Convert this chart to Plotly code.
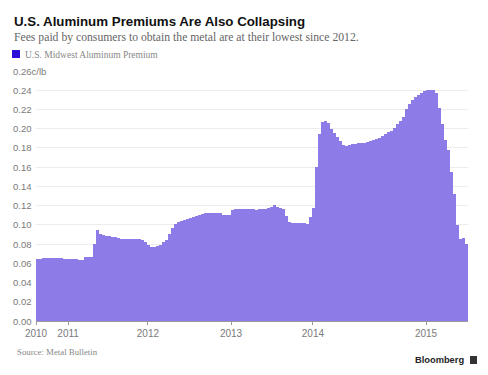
import plotly.graph_objects as go

# Weekly U.S. Midwest aluminum premium (c/lb)
premium = [
    0.065, 0.064, 0.066, 0.066, 0.066, 0.066, 0.066, 0.066, 0.066, 0.065,
    0.065, 0.065, 0.064, 0.064, 0.063, 0.063, 0.067, 0.067, 0.067, 0.080,
    0.095, 0.091, 0.089, 0.088, 0.088, 0.087, 0.087, 0.086, 0.085, 0.085,
    0.085, 0.085, 0.085, 0.085, 0.085, 0.084, 0.082, 0.079, 0.077, 0.077,
    0.078, 0.079, 0.082, 0.084, 0.090, 0.097, 0.101, 0.103, 0.104, 0.105,
    0.106, 0.107, 0.108, 0.109, 0.110, 0.111, 0.112, 0.112, 0.112, 0.112,
    0.112, 0.112, 0.110, 0.110, 0.110, 0.115, 0.116, 0.117, 0.117, 0.117,
    0.117, 0.117, 0.117, 0.115, 0.116, 0.116, 0.117, 0.118, 0.119, 0.121,
    0.119, 0.118, 0.116, 0.109, 0.103, 0.102, 0.102, 0.102, 0.102, 0.102,
    0.101, 0.108, 0.118, 0.160, 0.195, 0.207, 0.208, 0.206, 0.200, 0.196,
    0.191, 0.187, 0.183, 0.182, 0.183, 0.184, 0.184, 0.185, 0.185, 0.185,
    0.186, 0.187, 0.188, 0.189, 0.190, 0.192, 0.195, 0.197, 0.198, 0.201,
    0.205, 0.208, 0.212, 0.220, 0.226, 0.230, 0.233, 0.235, 0.237, 0.239,
    0.240, 0.240, 0.240, 0.237, 0.222, 0.205, 0.188, 0.178, 0.155, 0.132,
    0.100, 0.085, 0.086, 0.080,
]
week_index = list(range(len(premium)))

# Year labels and the week positions where they fall
year_labels = ["2010", "2011", "2012", "2013", "2014", "2015"]
year_positions = [-0.5, 10.2, 36.8, 64.5, 91.8, 129.5]

# Y-axis ticks
y_ticks = [0.00, 0.02, 0.04, 0.06, 0.08, 0.10, 0.12, 0.14, 0.16, 0.18, 0.20, 0.22, 0.24, 0.26]
y_tick_text = [f"{v:.2f}" for v in y_ticks]
y_tick_text[-1] = "0.26c/lb"

BAR = "#8d7ce8"
GRAY = "#7a7a7a"
SANS = "Liberation Sans, Arial, sans-serif"
SERIF = "Liberation Serif, Georgia, serif"

W, H = 488, 375
pl, pr, pt, pb = 36, 20, 71, 54
pw, ph = W - pl - pr, H - pt - pb


def px_x(px):
    return (px - pl) / pw


def px_y(py):
    return (H - py - pb) / ph


fig = go.Figure(
    go.Bar(
        x=week_index,
        y=premium,
        marker=dict(color=BAR, line=dict(width=0)),
        width=1.0,
        showlegend=False,
        hoverinfo="skip",
    )
)

fig.update_layout(
    width=W,
    height=H,
    margin=dict(l=pl, r=pr, t=pt, b=pb, autoexpand=False),
    paper_bgcolor="white",
    plot_bgcolor="white",
    bargap=0,
    font=dict(family=SANS, size=10, color=GRAY),
)

fig.update_xaxes(
    range=[-0.5, len(premium) - 0.5],
    tickmode="array",
    tickvals=year_positions,
    ticktext=year_labels,
    showgrid=False,
    showline=True,
    linecolor="#999999",
    linewidth=1,
    ticks="outside",
    ticklen=3,
    tickcolor="#999999",
    tickfont=dict(family=SANS, size=10, color=GRAY),
    zeroline=False,
    automargin=False,
    fixedrange=True,
)

fig.update_yaxes(
    range=[0, 0.26],
    tickmode="array",
    tickvals=y_ticks,
    showticklabels=False,
    showgrid=True,
    gridcolor="#ececec",
    gridwidth=1,
    zeroline=False,
    showline=False,
    ticks="",
    automargin=False,
    fixedrange=True,
)

ann_list = []
# y tick labels, left-aligned at the chart's left edge, placed on the y scale
for v, t in zip(y_ticks, y_tick_text):
    ann_list.append(dict(
        text=t, x=px_x(11), y=v, xref="paper", yref="y",
        xanchor="left", yanchor="middle", showarrow=False,
        font=dict(family=SANS, size=9.5, color=GRAY),
    ))

texts = [
    ("<b>U.S. Aluminum Premiums Are Also Collapsing</b>", 12, 21,
     dict(family=SANS, size=13.3, color="#111111"), "left"),
    ("Fees paid by consumers to obtain the metal are at their lowest since 2012.", 12, 37,
     dict(family=SERIF, size=11.7, color="#666666"), "left"),
    ("U.S. Midwest Aluminum Premium", 23, 55,
     dict(family=SERIF, size=9.5, color="#888888"), "left"),
    ("Source: Metal Bulletin", 15, 352,
     dict(family=SERIF, size=8.8, color="#888888"), "left"),
    ("<b>Bloomberg</b>", 466, 360,
     dict(family=SANS, size=9.3, color="#222222"), "right"),
]
for t, x, y, f, xa in texts:
    ann_list.append(dict(
        text=t, x=px_x(x), y=px_y(y), xref="paper", yref="paper",
        xanchor=xa, yanchor="middle", showarrow=False, font=f,
    ))

fig.update_layout(annotations=ann_list)

fig.update_layout(shapes=[
    # legend swatch
    dict(type="rect", xref="paper", yref="paper",
         x0=px_x(12), x1=px_x(20), y0=px_y(58), y1=px_y(50),
         fillcolor="#2a0fd6", line=dict(width=0)),
    # Bloomberg logo mark
    dict(type="rect", xref="paper", yref="paper",
         x0=px_x(470), x1=px_x(477), y0=px_y(364), y1=px_y(356),
         fillcolor="#333333", line=dict(width=0)),
])

fig.write_html(
    "out.html",
    config={"displayModeBar": False, "staticPlot": True},
    post_script="document.body.style.margin='0';document.body.style.overflow='hidden';",
)
